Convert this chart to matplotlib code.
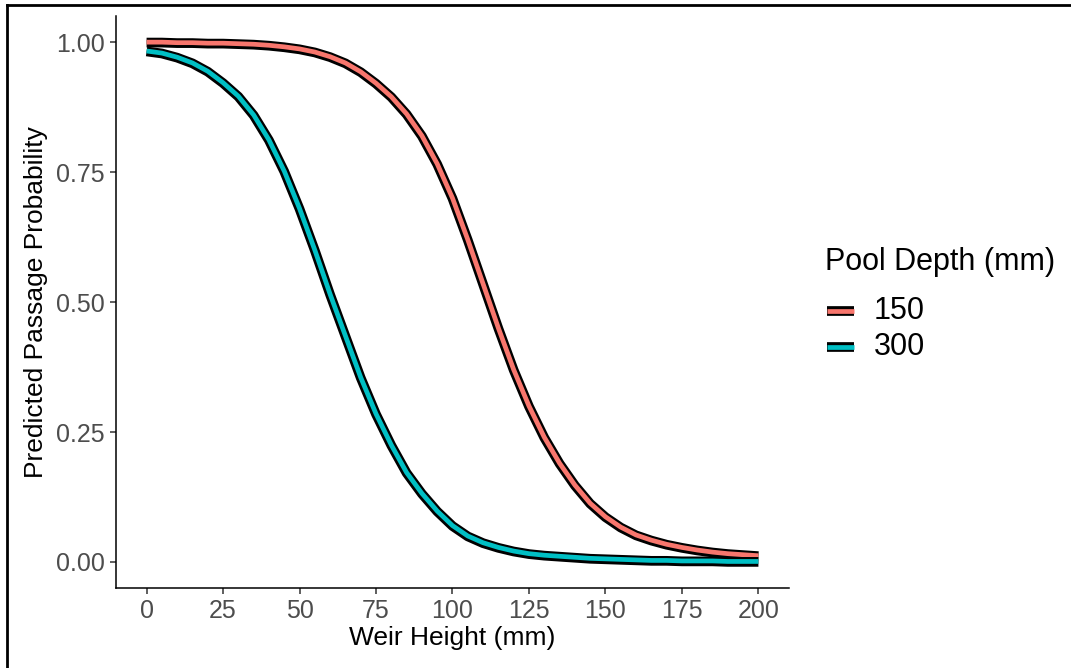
import matplotlib
matplotlib.use("Agg")
import matplotlib.pyplot as plt
import matplotlib.patheffects as pe
from matplotlib.lines import Line2D

plt.rcParams.update({
    "font.family": ["Liberation Sans", "DejaVu Sans"],
    "axes.edgecolor": "black",
    "xtick.color": "#333333",
    "ytick.color": "#333333",
})

# weir height (mm) and predicted passage probability for each pool depth
weir_height = [0, 5, 10, 15, 20, 25, 30, 35, 40, 45, 50, 55, 60, 65, 70, 75, 80, 85, 90, 95, 100,
               105, 110, 115, 120, 125, 130, 135, 140, 145, 150, 155, 160, 165, 170, 175, 180,
               185, 190, 195, 200]
prob_150 = [1.000, 1.000, 0.999, 0.999, 0.998, 0.998, 0.997, 0.996, 0.994, 0.991, 0.987,
            0.981, 0.972, 0.960, 0.943, 0.921, 0.895, 0.862, 0.820, 0.766, 0.700,
            0.620, 0.535, 0.450, 0.370, 0.300, 0.240, 0.190, 0.148, 0.113, 0.087,
            0.067, 0.052, 0.042, 0.034, 0.028, 0.023, 0.019, 0.016, 0.014, 0.012]
prob_300 = [0.983, 0.979, 0.971, 0.960, 0.944, 0.922, 0.896, 0.860, 0.812, 0.752, 0.680,
            0.600, 0.515, 0.435, 0.355, 0.285, 0.225, 0.172, 0.132, 0.098, 0.070,
            0.050, 0.037, 0.028, 0.021, 0.016, 0.013, 0.011, 0.009, 0.007, 0.006,
            0.005, 0.004, 0.003, 0.003, 0.002, 0.002, 0.002, 0.001, 0.001, 0.001]
depths = ["150", "300"]
colors = ["#F8766D", "#00BFC4"]

x_ticks = [0, 25, 50, 75, 100, 125, 150, 175, 200]
y_ticks = [0.0, 0.25, 0.50, 0.75, 1.00]

fig = plt.figure(figsize=(10.71, 6.68), dpi=100)
ax = fig.add_axes([0.1083, 0.1198, 0.6284, 0.856])

# black outline under each coloured curve
outline = [pe.Stroke(linewidth=7.0, foreground="black", offset=(0, -0.3)), pe.Normal()]
for i, (ys, col) in enumerate(zip([prob_150, prob_300], colors)):
    ax.plot(weir_height, ys, color=col, lw=3.4, solid_capstyle="butt",
            solid_joinstyle="round", path_effects=outline, zorder=2 + i)

ax.set_xlim(-10, 210)
ax.set_ylim(-0.05, 1.05)
ax.set_xticks(x_ticks)
ax.set_yticks(y_ticks)
ax.set_yticklabels([f"{v:.2f}" for v in y_ticks])
ax.tick_params(labelsize=18, labelcolor="#4D4D4D", length=4, width=1.1, pad=4)
for s in ["top", "right"]:
    ax.spines[s].set_visible(False)
for s in ["left", "bottom"]:
    ax.spines[s].set_linewidth(1.1)

ax.set_xlabel("Weir Height (mm)", fontsize=19, labelpad=2)
ax.set_ylabel("Predicted Passage Probability", fontsize=19, labelpad=6)

# legend drawn by hand to sit where ggplot puts it
W, H = 1071, 668
fig.text(825 / W, 1 - 262 / H, "Pool Depth (mm)", fontsize=22, va="center", ha="left")
for k, (lab, col) in enumerate(zip(depths, colors)):
    yk = 1 - (311 + k * 36) / H
    fig.add_artist(Line2D([827 / W, 854 / W], [yk, yk], transform=fig.transFigure,
                          color=col, lw=3.4, solid_capstyle="butt",
                          path_effects=outline))
    fig.text(874 / W, yk, lab, fontsize=22, va="center", ha="left")

# frame around the screenshot
fig.add_artist(Line2D([7 / W, 7 / W], [0, 1 - 5 / H], transform=fig.transFigure,
                      color="black", lw=2))
fig.add_artist(Line2D([7 / W, 1], [1 - 5 / H, 1 - 5 / H], transform=fig.transFigure,
                      color="black", lw=2))

fig.savefig("out.png", dpi=100, facecolor="white")
